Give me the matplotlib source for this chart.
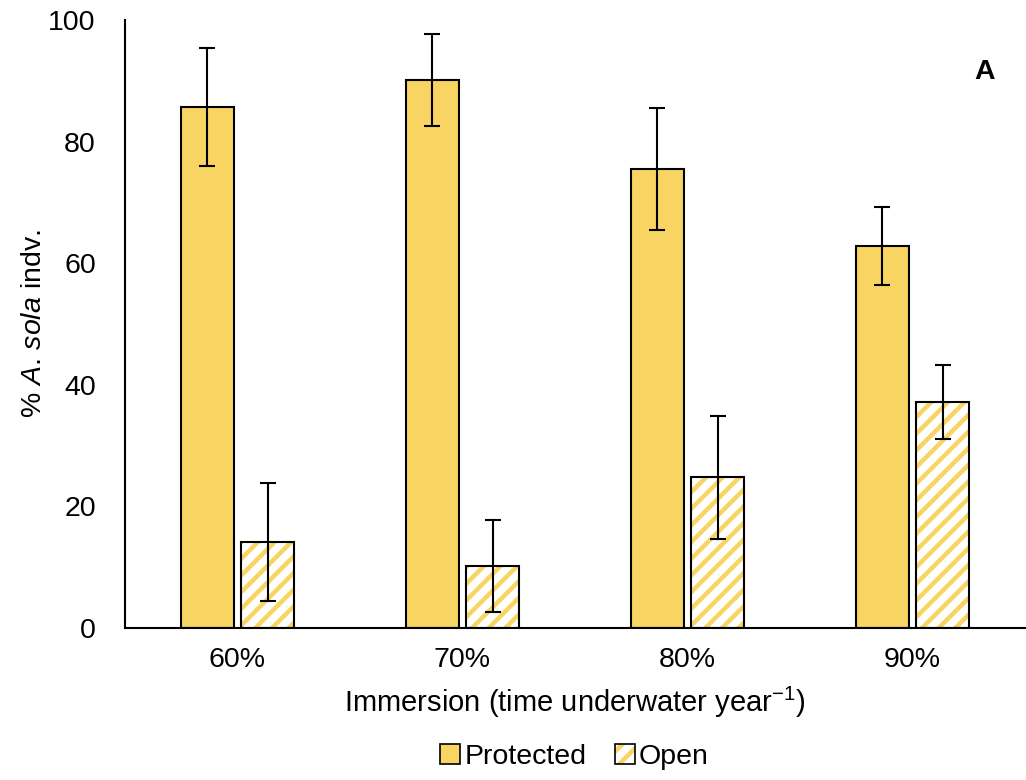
"""A. sola survival by immersion level, protected vs open plots"""
import matplotlib
matplotlib.use('Agg')
import matplotlib.pyplot as plt
from matplotlib.patches import Patch
from matplotlib.legend_handler import HandlerTuple
import numpy as np

plt.rcParams['font.family'] = ['Liberation Sans', 'DejaVu Sans']
plt.rcParams['mathtext.fontset'] = 'custom'
plt.rcParams['mathtext.rm'] = 'Liberation Sans'
plt.rcParams['mathtext.it'] = 'Liberation Sans:italic'
plt.rcParams['hatch.linewidth'] = 3.2

immersion = ['60%', '70%', '80%', '90%']
protected = [85.7, 90.1, 75.5, 62.8]
protected_err = [9.7, 7.6, 10.1, 6.4]
open_plot = [14.1, 10.2, 24.8, 37.2]
open_err = [9.7, 7.6, 10.1, 6.1]

gold = '#F8D463'
fs = 20.5

fig = plt.figure(figsize=(10.26, 7.8), dpi=100)
ax = fig.add_axes([0.1218, 0.1949, 0.8772, 0.7795])

x = np.arange(len(immersion))
w = 0.236
off = 0.135

ax.bar(x - off, protected, w, color=gold, edgecolor='black', linewidth=1.5, zorder=2)
ax.errorbar(x - off, protected, yerr=protected_err, fmt='none', ecolor='black',
            elinewidth=1.5, capsize=6, capthick=1.5, zorder=3)

# hatched bars: yellow stripes first, black outline on top
ax.bar(x + off, open_plot, w, color='white', edgecolor=gold, hatch='//', linewidth=0, zorder=2)
ax.bar(x + off, open_plot, w, color='none', edgecolor='black', linewidth=1.5, zorder=2)
ax.errorbar(x + off, open_plot, yerr=open_err, fmt='none', ecolor='black',
            elinewidth=1.5, capsize=6, capthick=1.5, zorder=3)

ax.set_xlim(-0.5, 3.5)
ax.set_ylim(0, 100)
ax.set_yticks(np.arange(0, 101, 20))
ax.set_xticks(x)
ax.set_xticklabels(immersion)
ax.tick_params(axis='both', length=0, labelsize=fs)
ax.tick_params(axis='y', pad=21)
ax.tick_params(axis='x', pad=14)

for s in ['top', 'right']:
    ax.spines[s].set_visible(False)
for s in ['left', 'bottom']:
    ax.spines[s].set_linewidth(1.5)

ax.set_ylabel(r'% $\mathit{A.\,sola}$ indv.', fontsize=fs, labelpad=1)
ax.set_xlabel(r'Immersion (time underwater year$^{\mathrm{-1}}$)', fontsize=fs + 0.5, labelpad=8)

ax.text(0.955, 0.915, 'A', transform=ax.transAxes, fontsize=fs, fontweight='bold',
        ha='center', va='center')

prot_h = Patch(facecolor=gold, edgecolor='black', linewidth=1.2)
open_h = (Patch(facecolor='white', edgecolor=gold, hatch='//', linewidth=0),
          Patch(facecolor='none', edgecolor='black', linewidth=1.2))
fig.legend([prot_h, open_h], ['Protected', 'Open'], loc='center',
           bbox_to_anchor=(0.56, 0.03), ncol=2, frameon=False, fontsize=fs,
           handlelength=0.7, handleheight=0.7, handletextpad=0.15, columnspacing=1.0,
           handler_map={tuple: HandlerTuple(ndivide=1, pad=0)})

fig.savefig('out.png', dpi=100)
